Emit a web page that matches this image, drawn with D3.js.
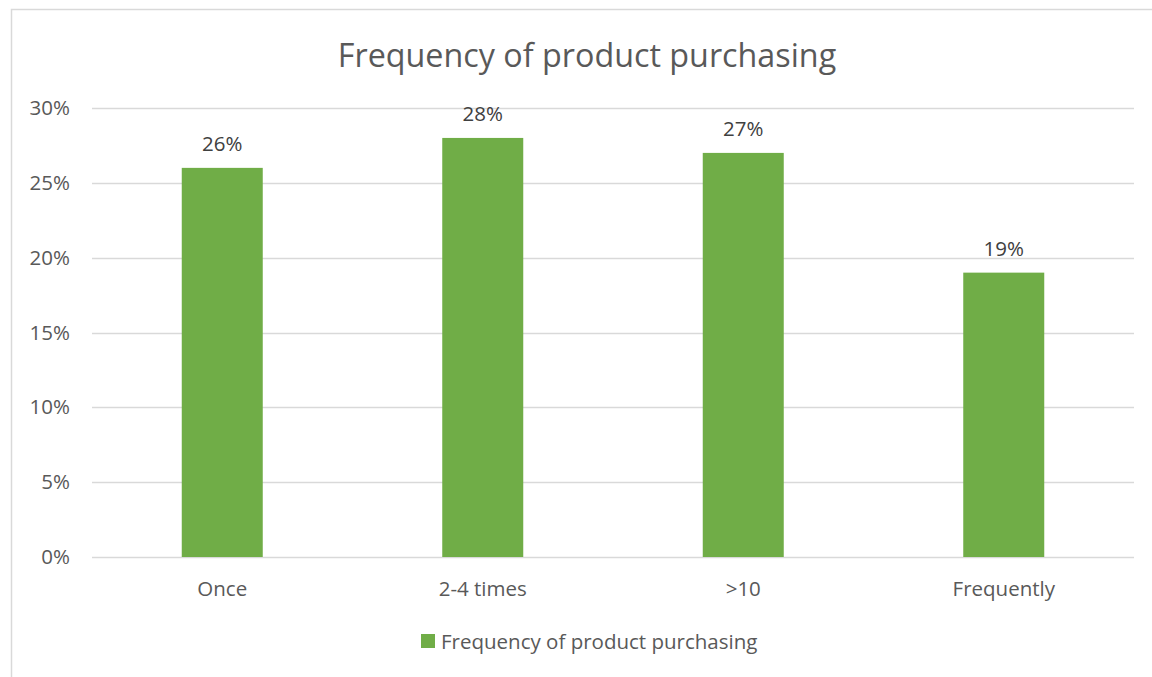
<!DOCTYPE html>
<html>
<head>
<meta charset="utf-8">
<script src="https://cdn.jsdelivr.net/npm/d3@7"></script>
<style>
  html, body { margin: 0; padding: 0; background: #fff; }
  svg { display: block; font-family: "Open Sans", "Noto Sans", sans-serif; }
</style>
</head>
<body>
<svg id="chart" width="1152" height="677"></svg>
<script>
// Purchase frequency shares
const categories = ["Once", "2-4 times", ">10", "Frequently"];
const shares = [0.26, 0.28, 0.27, 0.19];
const yTicks = [0, 0.05, 0.10, 0.15, 0.20, 0.25, 0.30];
const chartTitle = "Frequency of product purchasing";
const seriesName = "Frequency of product purchasing";

const svg = d3.select("#chart");
const W = 1152, H = 677;
const plot = { left: 92, right: 1134, top: 108, bottom: 557 };
const green = "#70AD47";
const textGrey = "#595959";
const labelSize = "20.5px";

// Chart area frame
svg.append("rect")
  .attr("x", 11.5).attr("y", 9.5)
  .attr("width", W + 20).attr("height", H + 20)
  .attr("fill", "#fff").attr("stroke", "#d9d9d9").attr("stroke-width", 1.5);

const x = d3.scaleBand().domain(categories).range([plot.left, plot.right]).paddingInner(0).paddingOuter(0);
const y = d3.scaleLinear().domain([0, 0.30]).range([plot.bottom, plot.top]);

// Horizontal gridlines
svg.append("g").selectAll("line").data(yTicks).join("line")
  .attr("x1", plot.left).attr("x2", plot.right)
  .attr("y1", d => Math.round(y(d)) + 0.5).attr("y2", d => Math.round(y(d)) + 0.5)
  .attr("stroke", "#d9d9d9").attr("stroke-width", 1.5);

// Y axis labels
const yAxis = d3.axisLeft(y).tickValues(yTicks).tickFormat(d3.format(".0%")).tickSize(0).tickPadding(0);
const gy = svg.append("g").attr("transform", `translate(${plot.left - 22},0)`).call(yAxis);
gy.select(".domain").remove();
gy.selectAll("text").attr("fill", textGrey).style("font-size", labelSize)
  .style("font-family", "'Open Sans', 'Noto Sans', sans-serif");

// Bars
const barW = 81;
svg.append("g").selectAll("rect").data(categories).join("rect")
  .attr("x", (d) => x(d) + x.bandwidth() / 2 - barW / 2)
  .attr("width", barW)
  .attr("y", (d, i) => y(shares[i]))
  .attr("height", (d, i) => y(0) - y(shares[i]))
  .attr("fill", green);

// Value labels
svg.append("g").selectAll("text").data(categories).join("text")
  .attr("x", d => x(d) + x.bandwidth() / 2)
  .attr("y", (d, i) => y(shares[i]) - 17)
  .attr("text-anchor", "middle")
  .attr("fill", "#404040")
  .style("font-size", labelSize)
  .text((d, i) => d3.format(".0%")(shares[i]));

// X axis category labels
const xAxis = d3.axisBottom(x).tickSize(0).tickPadding(0);
const gx = svg.append("g").attr("transform", `translate(0,${plot.bottom + 24})`).call(xAxis);
gx.select(".domain").remove();
gx.selectAll("text").attr("fill", textGrey).style("font-size", labelSize)
  .style("font-family", "'Open Sans', 'Noto Sans', sans-serif");

// Title
svg.append("text")
  .attr("x", 587).attr("y", 66.5)
  .attr("text-anchor", "middle")
  .attr("fill", textGrey)
  .style("font-size", "32.3px")
  .text(chartTitle);

// Legend
const lg = svg.append("g").attr("transform", "translate(421,634)");
lg.append("rect").attr("width", 14).attr("height", 14).attr("fill", green);
lg.append("text").attr("x", 20).attr("y", 15).attr("fill", textGrey)
  .style("font-size", labelSize).text(seriesName);
</script>
</body>
</html>
